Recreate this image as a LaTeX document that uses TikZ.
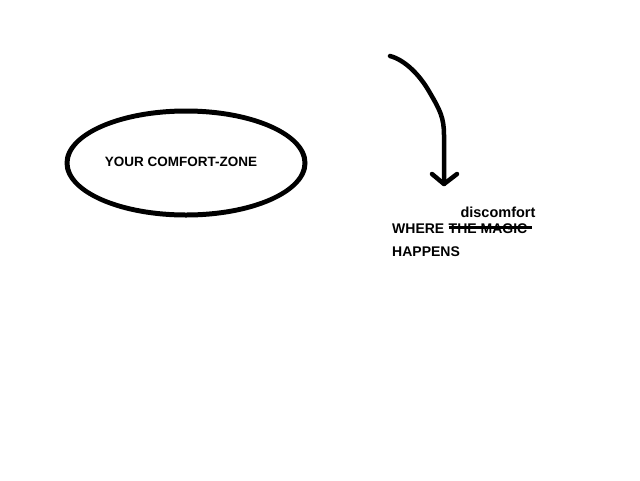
\documentclass[tikz,border=0pt]{standalone}
\usepackage{fontspec}
\setmainfont{Liberation Sans}
\begin{document}
\begin{tikzpicture}[x=1pt,y=-1pt,
  thick line/.style={line width=4.5pt,line cap=round,line join=round},
  label text/.style={inner sep=0pt,anchor=base west,font=\fontsize{14}{16}\selectfont\bfseries}]
\useasboundingbox[fill=white] (0,0) rectangle (640,480);
\coordinate (zone) at (186,163);
\fill[black,even odd rule] (zone) ellipse [x radius=121.5, y radius=54.5] (zone) ellipse [x radius=116.5, y radius=49.5];
\node[inner sep=0pt,font=\fontsize{13.5}{16}\selectfont\bfseries] (zonetext) at (181,162) {YOUR COMFORT-ZONE};
\coordinate (astart) at (390,56);
\coordinate (atip) at (444,184);
\draw[thick line] (astart) .. controls (405,60) and (420,75) .. (430,93) .. controls (440,110) and (444,118) .. (444,135) -- (atip);
\coordinate (aleft) at (432,174);
\coordinate (aright) at (457,174);
\draw[thick line] (aleft) -- (atip) -- (aright);
\node[label text] (where) at (392,233) {WHERE};
\node[label text,anchor=base west] (magic) at ([xshift=4pt]where.base east) {THE MAGIC};
\node[label text] (happens) at (392,256) {HAPPENS};
\node[label text,font=\fontsize{14.5}{16}\selectfont\bfseries,anchor=base] (disc) at (498,217) {discomfort};
\coordinate (strikeend) at (532,227);
\draw[line width=3pt] (magic.west |- strikeend) -- (strikeend);
\end{tikzpicture}
\end{document}
